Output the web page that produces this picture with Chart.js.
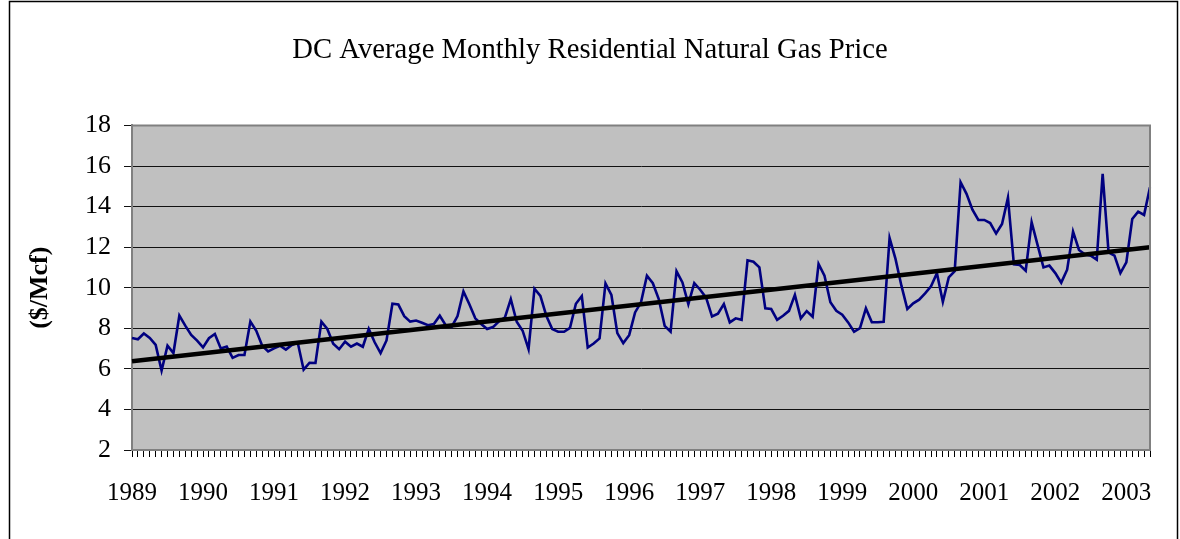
<!DOCTYPE html>
<html>
<head>
<meta charset="utf-8">
<script src="https://cdn.jsdelivr.net/npm/chart.js@4.4.1/dist/chart.umd.min.js"></script>
<style>
  html, body { margin: 0; padding: 0; background: #fff; }
  #wrap { width: 1180px; height: 539px; position: relative; }
</style>
</head>
<body>
<div id="wrap"><canvas id="gasChart" width="1180" height="539"></canvas></div>
<script>
// года для подписей оси X (каждые 12 месяцев)
const years = ["1989", "1990", "1991", "1992", "1993", "1994", "1995", "1996",
  "1997", "1998", "1999", "2000", "2001", "2002", "2003"];
const months = ["Jan", "Feb", "Mar", "Apr", "May", "Jun", "Jul", "Aug", "Sep", "Oct", "Nov", "Dec"];

// цена, $/Mcf, январь 1989 - май 2003
const prices = [
  7.52, 7.46, 7.74, 7.52, 7.18, 5.92, 7.14, 6.78, 8.63, 8.13, 7.67, 7.39,
  7.06, 7.51, 7.72, 7.01, 7.10, 6.54, 6.68, 6.68, 8.33, 7.88, 7.14, 6.86,
  7.01, 7.14, 6.95, 7.18, 7.30, 5.96, 6.30, 6.29, 8.33, 7.97, 7.24, 6.97,
  7.34, 7.09, 7.25, 7.09, 7.97, 7.31, 6.78, 7.40, 9.21, 9.17, 8.60, 8.33,
  8.38, 8.27, 8.15, 8.21, 8.62, 8.15, 8.07, 8.60, 9.82, 9.19, 8.49, 8.21,
  7.96, 8.06, 8.34, 8.53, 9.44, 8.32, 7.88, 6.97, 9.95, 9.60, 8.62, 7.96,
  7.83, 7.83, 8.02, 9.21, 9.59, 7.05, 7.25, 7.50, 10.21, 9.64, 7.76, 7.27,
  7.66, 8.78, 9.28, 10.59, 10.22, 9.44, 8.12, 7.83, 10.81, 10.26, 9.19, 10.23,
  9.90, 9.51, 8.58, 8.72, 9.19, 8.29, 8.49, 8.42, 11.35, 11.28, 11.00, 8.98,
  8.95, 8.42, 8.62, 8.86, 9.65, 8.49, 8.85, 8.57, 11.17, 10.59, 9.28, 8.86,
  8.67, 8.29, 7.83, 8.01, 8.98, 8.30, 8.30, 8.32, 12.45, 11.42, 10.10, 8.95,
  9.23, 9.41, 9.72, 10.07, 10.72, 9.31, 10.51, 10.82, 15.20, 14.63, 13.85, 13.34,
  13.34, 13.19, 12.67, 13.14, 14.44, 11.15, 11.12, 10.84, 13.23, 12.11, 11.00, 11.09,
  10.72, 10.25, 10.89, 12.77, 11.86, 11.65, 11.58, 11.38, 15.61, 11.74, 11.58, 10.72,
  11.25, 13.39, 13.75, 13.59, 14.95
];

// линия тренда: значения на первом и последнем месяце
const trendEnds = [6.38, 11.99];

const yTicks = [2, 4, 6, 8, 10, 12, 14, 16, 18];

// категории: "Jan 1989", "Feb 1989", ...
const categories = prices.map((_, i) => months[i % 12] + " " + years[Math.floor(i / 12)]);

// тренд - только две точки, между ними spanGaps
const trendData = prices.map((_, i) => {
  if (i === 0) return trendEnds[0];
  if (i === prices.length - 1) return trendEnds[1];
  return null;
});

// фон области построения и рамки
const plotBg = {
  id: "plotBg",
  beforeDraw(chart) {
    const { ctx, chartArea: a } = chart;
    ctx.save();
    ctx.fillStyle = "#c0c0c0";
    ctx.fillRect(a.left, a.top, a.right - a.left, a.bottom - a.top);
    ctx.restore();
  },
  afterDraw(chart) {
    const { ctx, chartArea: a } = chart;
    ctx.save();
    ctx.strokeStyle = "#808080";
    ctx.lineWidth = 2;
    ctx.beginPath();
    ctx.moveTo(a.left, a.top);
    ctx.lineTo(a.right, a.top);
    ctx.lineTo(a.right, a.bottom);
    ctx.stroke();
    // внешняя рамка диаграммы
    ctx.strokeStyle = "#000";
    ctx.lineWidth = 1.5;
    ctx.strokeRect(9.5, 1.5, 1168, 600);
    ctx.restore();
  }
};

const serif = "'Times New Roman', 'Liberation Serif', serif";

new Chart(document.getElementById("gasChart"), {
  type: "line",
  data: {
    labels: categories,
    datasets: [
      {
        label: "Trend",
        data: trendData,
        borderColor: "#000",
        borderWidth: 4.5,
        pointRadius: 0,
        spanGaps: true,
        order: 0
      },
      {
        label: "DC Residential",
        data: prices,
        borderColor: "#000080",
        borderWidth: 2.6,
        pointRadius: 0,
        tension: 0,
        order: 1
      }
    ]
  },
  options: {
    responsive: false,
    animation: false,
    // одинаковые отступы слева и справа, чтобы заголовок был по центру холста
    layout: { padding: { left: 30, right: 30, top: 0, bottom: 0 } },
    plugins: {
      legend: { display: false },
      tooltip: { enabled: false },
      title: {
        display: true,
        text: "DC Average Monthly Residential Natural Gas Price",
        color: "#000",
        font: { family: serif, size: 28.7, weight: "normal" },
        padding: { top: 33, bottom: 58 }
      }
    },
    scales: {
      x: {
        type: "category",
        offset: false,
        afterFit: s => { s.height = 89; },
        border: { color: "#808080", width: 2 },
        grid: { drawOnChartArea: false, drawTicks: true, tickLength: 7, color: "#000" },
        ticks: {
          autoSkip: false,
          maxRotation: 0,
          minRotation: 0,
          padding: 21,
          color: "#000",
          font: { family: serif, size: 25 },
          callback: (v, i) => (i % 12 === 0 ? years[i / 12] : "")
        }
      },
      y: {
        min: yTicks[0],
        max: yTicks[yTicks.length - 1],
        afterFit: s => { s.width = 102; },
        afterBuildTicks: s => { s.ticks = yTicks.map(v => ({ value: v })); },
        border: { color: "#808080", width: 2 },
        grid: { color: "#111", lineWidth: 1, tickLength: 8, drawTicks: true },
        ticks: {
          padding: 13,
          color: "#000",
          font: { family: serif, size: 26 }
        },
        title: {
          display: true,
          text: "($/Mcf)",
          color: "#000",
          font: { family: serif, size: 26, weight: "bold" },
          padding: { top: -5, bottom: 0 }
        }
      }
    }
  },
  plugins: [plotBg]
});
</script>
</body>
</html>
